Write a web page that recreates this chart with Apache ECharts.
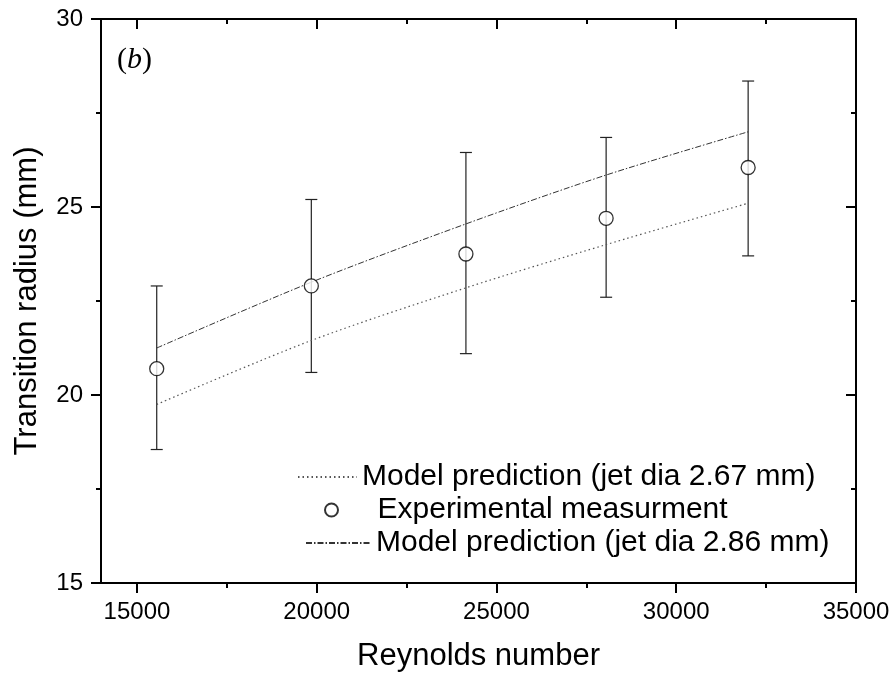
<!DOCTYPE html>
<html>
<head>
<meta charset="utf-8">
<script src="https://cdn.jsdelivr.net/npm/echarts@6/dist/echarts.min.js"></script>
<style>html,body{margin:0;padding:0;background:#fff;}#c{width:894px;height:677px;}</style>
</head>
<body>
<div id="c"></div>
<script>
const reynolds = [15550, 19850, 24150, 28050, 32000];
const measured = [20.7, 22.9, 23.75, 24.7, 26.05];
const errLow = [18.55, 20.6, 21.1, 22.6, 23.7];
const errHigh = [22.9, 25.2, 26.45, 26.85, 28.35];
const model267 = [19.75, 21.45, 22.85, 24.0, 25.1];
const model286 = [21.25, 23.0, 24.55, 25.85, 27.0];
const xMajorTicks = [15000, 20000, 25000, 30000, 35000];
const xMinorTicks = [17500, 22500, 27500, 32500];
const seriesNames = ['Model prediction (jet dia 2.67 mm)', 'Experimental measurment', 'Model prediction (jet dia 2.86 mm)'];

const font = 'Arial, "Liberation Sans", sans-serif';
const chart = echarts.init(document.getElementById('c'), null, {renderer: 'canvas'});

const baseX = {type: 'value', min: 14000, max: 35000, splitLine: {show: false}};
const axLine = {color: '#000', width: 2};
const tickSt = {color: '#000', width: 2};
const legendText = {fontSize: 30, fontFamily: font, color: '#000'};
const option = {
  animation: false,
  backgroundColor: '#fff',
  grid: {left: 101, right: 38, top: 19, bottom: 94},
  xAxis: [
    Object.assign({}, baseX, {position: 'bottom', axisLine: {show: true, onZero: false, lineStyle: axLine},
      axisTick: {show: true, inside: false, length: 10, lineStyle: tickSt, customValues: xMajorTicks},
      axisLabel: {show: true, customValues: xMajorTicks, color: '#000', fontSize: 24, fontFamily: font, margin: 17,
        formatter: v => String(v)},
      name: 'Reynolds number', nameLocation: 'middle', nameGap: 58,
      nameTextStyle: {fontSize: 31, fontFamily: font, color: '#000'}}),
    Object.assign({}, baseX, {position: 'bottom', axisLine: {show: false, onZero: false},
      axisTick: {show: true, inside: false, length: 5, lineStyle: tickSt, customValues: xMinorTicks},
      axisLabel: {show: false}}),
    Object.assign({}, baseX, {position: 'top', axisLine: {show: true, onZero: false, lineStyle: axLine},
      axisTick: {show: true, inside: true, length: 10, lineStyle: tickSt, customValues: xMajorTicks},
      axisLabel: {show: false}}),
    Object.assign({}, baseX, {position: 'top', axisLine: {show: false, onZero: false},
      axisTick: {show: true, inside: true, length: 5, lineStyle: tickSt, customValues: xMinorTicks},
      axisLabel: {show: false}})
  ],
  yAxis: [
    {type: 'value', min: 15, max: 30, interval: 5, position: 'left', splitLine: {show: false},
      axisLine: {show: true, onZero: false, lineStyle: axLine},
      axisTick: {show: true, inside: false, length: 10, lineStyle: tickSt},
      minorTick: {show: true, splitNumber: 2, length: 5, lineStyle: tickSt},
      axisLabel: {color: '#000', fontSize: 24, fontFamily: font, margin: 18},
      name: 'Transition radius (mm)', nameLocation: 'middle', nameGap: 58,
      nameTextStyle: {fontSize: 31, fontFamily: font, color: '#000'}},
    {type: 'value', min: 15, max: 30, interval: 5, position: 'right', splitLine: {show: false},
      axisLine: {show: true, onZero: false, lineStyle: axLine},
      axisTick: {show: true, inside: true, length: 10, lineStyle: tickSt},
      minorTick: {show: true, splitNumber: 2, length: 5, lineStyle: tickSt},
      axisLabel: {show: false}}
  ],
  legend: [
    {left: 297, top: 462, padding: 0, itemWidth: 59, itemHeight: 12, textStyle: legendText,
      data: [{name: seriesNames[0]}]},
    {left: 324, top: 495, padding: 0, itemWidth: 82, itemHeight: 13, textStyle: legendText,
      data: [{name: seriesNames[1], icon: 'circle'}]},
    {left: 305, top: 528, padding: 0, itemWidth: 65, itemHeight: 12, textStyle: legendText,
      data: [{name: seriesNames[2]}]}
  ],
  graphic: [{
    type: 'text', left: 117, top: 45,
    style: {text: '{n|(}{i|b}{n|)}', rich: {
      n: {fontSize: 30, fontFamily: '"Liberation Serif", "Times New Roman", serif', fill: '#000'},
      i: {fontSize: 30, fontFamily: '"Liberation Serif", "Times New Roman", serif', fontStyle: 'italic', fill: '#000'}
    }}
  }],
  series: [
    {name: seriesNames[0], type: 'line', smooth: 0.3, symbol: 'none',
      data: reynolds.map((x, i) => [x, model267[i]]),
      lineStyle: {color: '#555', width: 1.2, type: [1.5, 3]}, itemStyle: {color: 'rgba(0,0,0,0)', borderWidth: 0}},
    {name: 'errorbars', type: 'custom',
      data: reynolds.map((x, i) => [x, errLow[i], errHigh[i]]),
      renderItem: function (params, api) {
        const lo = api.coord([api.value(0), api.value(1)]);
        const hi = api.coord([api.value(0), api.value(2)]);
        const w = 6;
        const st = {stroke: '#222', lineWidth: 1.2};
        return {type: 'group', children: [
          {type: 'line', shape: {x1: hi[0], y1: hi[1], x2: lo[0], y2: lo[1]}, style: st},
          {type: 'line', shape: {x1: hi[0] - w, y1: hi[1], x2: hi[0] + w, y2: hi[1]}, style: st},
          {type: 'line', shape: {x1: lo[0] - w, y1: lo[1], x2: lo[0] + w, y2: lo[1]}, style: st}
        ]};
      }, z: 3},
    {name: seriesNames[1], type: 'scatter', symbol: 'circle', symbolSize: 14,
      data: reynolds.map((x, i) => [x, measured[i]]),
      itemStyle: {color: '#fff', borderColor: '#000', borderWidth: 1.3}, z: 5},
    {name: seriesNames[2], type: 'line', smooth: 0.3, symbol: 'none',
      data: reynolds.map((x, i) => [x, model286[i]]),
      lineStyle: {color: '#333', width: 1, type: [6, 2, 1.5, 2]}, itemStyle: {color: 'rgba(0,0,0,0)', borderWidth: 0}}
  ]
};
chart.setOption(option);
</script>
</body>
</html>
